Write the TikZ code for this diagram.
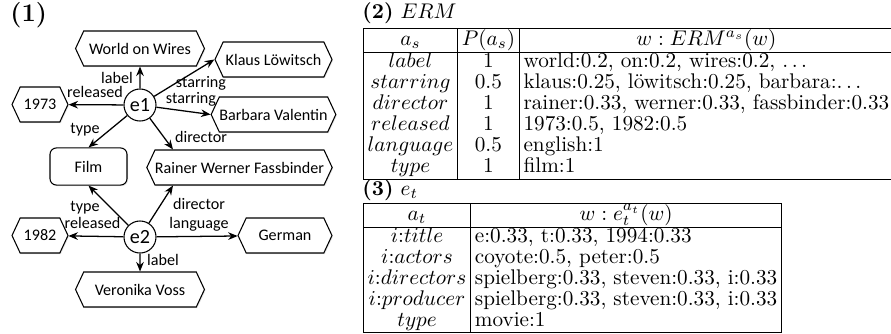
\documentclass[tikz,border=0pt]{standalone}
\usepackage{fontspec}
\newfontfamily\calibri{Carlito}
\usetikzlibrary{arrows.meta, shapes.symbols, shadows, calc}

\begin{document}
\begin{tikzpicture}[
    x=0.4717pt, y=-0.4717pt,
    ent/.style={signal, signal to=east and west, signal pointer angle=130, draw, fill=white, line width=0.5pt, minimum height=16.5pt, inner xsep=0pt, font=\calibri\fontsize{7.6}{9}\selectfont, drop shadow={opacity=0.2, shadow xshift=0.5pt, shadow yshift=-0.5pt}},
    cls/.style={rectangle, rounded corners=3pt, draw, fill=white, line width=0.5pt, minimum width=36.3pt, minimum height=17.5pt, font=\calibri\fontsize{7.6}{9}\selectfont, drop shadow={opacity=0.2, shadow xshift=0.5pt, shadow yshift=-0.5pt}},
    res/.style={circle, draw, fill=white, line width=0.5pt, minimum size=15.1pt, inner sep=0pt, font=\calibri\fontsize{9.5}{11}\selectfont},
    rel/.style={font=\calibri\fontsize{7.6}{9}\selectfont, inner sep=0pt},
    arrow/.style={-{Stealth[length=4.5pt, width=3.6pt]}, line width=0.6pt},
    title/.style={anchor=west, inner sep=0pt}
  ]
  \useasboundingbox (0,0) rectangle (891,333);

  % (1) the graph
  \node[title] (graphtitle) at (10,15) {\large\textbf{(1)}};

  \node[res] (e1) at (140,105) {e1};
  \node[res] (e2) at (140,237) {e2};

  \node[ent, minimum width=60.8pt] (wow) at (140,48.5) {World on Wires};
  \node[ent, minimum width=55.2pt] (klaus) at (273.5,59.5) {Klaus Löwitsch};
  \node[ent, minimum width=55.2pt] (barbara) at (273.5,114.5) {Barbara Valentin};
  \node[ent, minimum width=26.4pt] (y1973) at (40,104.5) {1973};
  \node[cls] (film) at (88.5,166.5) {Film};
  \node[ent, minimum width=87.3pt] (rwf) at (239.5,167.5) {Rainer Werner Fassbinder};
  \node[ent, minimum width=26.4pt] (y1982) at (40,235.5) {1982};
  \node[ent, minimum width=44.3pt] (german) at (285,235.5) {German};
  \node[ent, minimum width=60.8pt] (voss) at (140,289.5) {Veronika Voss};

  \draw[arrow] (e1) -- (wow);
  \draw[arrow] (e1) -- (klaus.west);
  \draw[arrow] (e1) -- (barbara.west);
  \draw[arrow] (e1) -- (y1973);
  \draw[arrow] (e1) -- (film.north);
  \draw[arrow] (e1) -- ($(rwf.north)+(-66.5,0)$);
  \draw[arrow] (e2) -- (film.south);
  \draw[arrow] (e2) -- ($(rwf.south)+(-66.5,0)$);
  \draw[arrow] (e2) -- (y1982);
  \draw[arrow] (e2) -- (german);
  \draw[arrow] (e2) -- (voss);

  \node[rel] (e1label) at (117,78) {label};
  \node[rel] (e1released) at (95,92) {released};
  \node[rel] (e1type) at (85,129.5) {type};
  \node[rel] (e1starringa) at (201,83) {starring};
  \node[rel] (e1starringb) at (191,99.5) {starring};
  \node[rel] (e1director) at (201,137) {director};
  \node[rel] (e2type) at (85,207.5) {type};
  \node[rel] (e2released) at (92.5,223) {released};
  \node[rel] (e2director) at (199,203.5) {director};
  \node[rel] (e2language) at (199,224) {language};
  \node[rel] (e2label) at (163,260) {label};

  % (2) and (3) the tables
  \node[title] (ermtitle) at (362,13) {\textbf{(2)} $ERM$};
  \node[anchor=north west, inner sep=0pt] (erm) at (363,28) {%
    \setlength{\tabcolsep}{2pt}\setlength{\arrayrulewidth}{0.5pt}\renewcommand{\arraystretch}{0.82}%
    \begin{tabular}{|c|c|l|}
      \hline
      $a_s$ & $P(a_s)$ & \multicolumn{1}{c|}{$w : ERM^{a_s}(w)$} \\ \hline
      $label$ & 1 & world:0.2, on:0.2, wires:0.2, $\ldots$ \\
      $starring$ & 0.5 & klaus:0.25, löwitsch:0.25, barbara:$\ldots$ \\
      $director$ & 1 & rainer:0.33, werner:0.33, fassbinder:0.33 \\
      $released$ & 1 & 1973:0.5, 1982:0.5 \\
      $language$ & 0.5 & english:1 \\
      $type$ & 1 & film:1 \\ \hline
    \end{tabular}};

  \node[title] (ettitle) at (362,190) {\textbf{(3)} $e_t$};
  \node[anchor=north west, inner sep=0pt] (et) at (363,203) {%
    \setlength{\tabcolsep}{2pt}\setlength{\arrayrulewidth}{0.5pt}\renewcommand{\arraystretch}{0.82}%
    \begin{tabular}{|c|l|}
      \hline
      $a_t$ & \multicolumn{1}{c|}{$w : e_t^{a_t}(w)$} \\ \hline
      $i$:$title$ & e:0.33, t:0.33, 1994:0.33 \\
      $i$:$actors$ & coyote:0.5, peter:0.5 \\
      $i$:$directors$ & spielberg:0.33, steven:0.33, i:0.33 \\
      $i$:$producer$ & spielberg:0.33, steven:0.33, i:0.33 \\
      $type$ & movie:1 \\ \hline
    \end{tabular}};
\end{tikzpicture}
\end{document}
